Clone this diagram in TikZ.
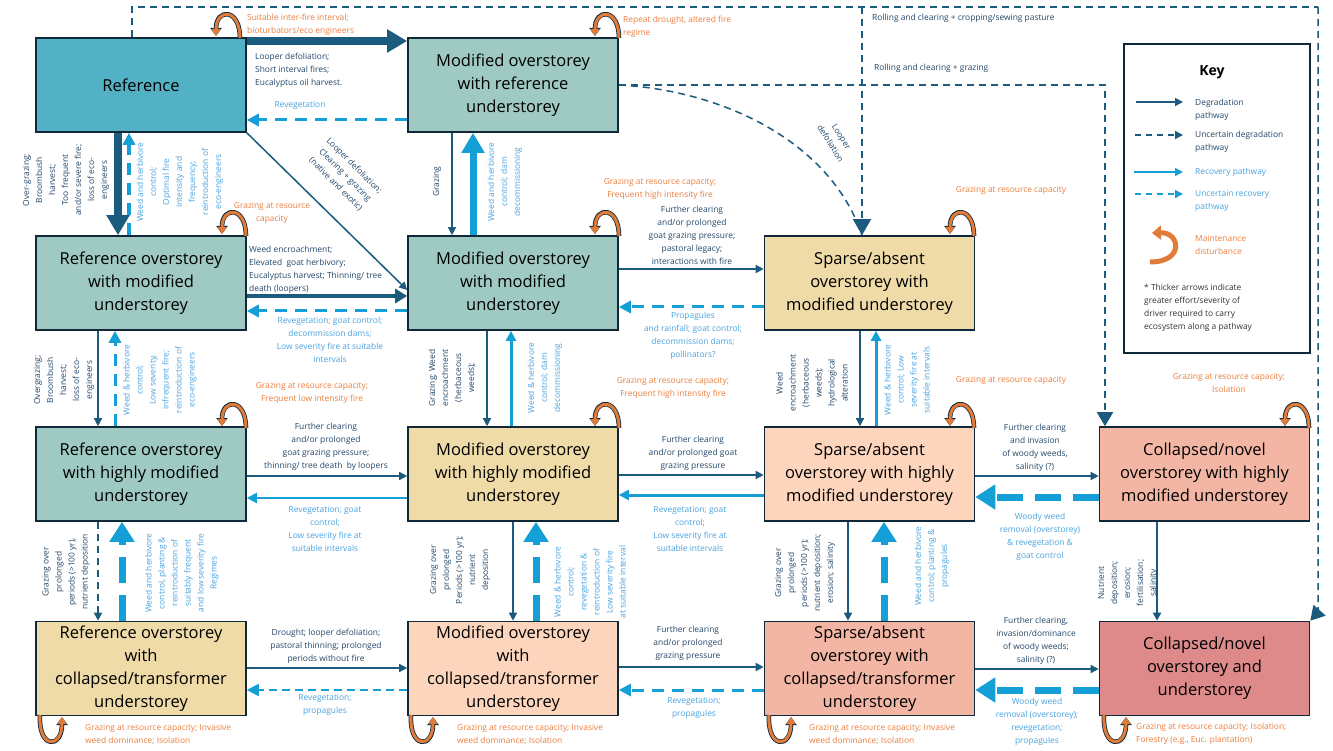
\documentclass[tikz,border=0pt]{standalone}
\usepackage{fontspec}
\setmainfont{Open Sans}
\usetikzlibrary{arrows.meta}
\definecolor{dk}{HTML}{1A5B7E}
\definecolor{lb}{HTML}{14A0D6}
\definecolor{og}{HTML}{E07B39}
\definecolor{tdk}{HTML}{24486A}
\definecolor{tlb}{HTML}{4AA3DF}
\definecolor{tog}{HTML}{EC7F3E}
\definecolor{cA}{HTML}{53B1C6}
\definecolor{cB}{HTML}{9FCAC3}
\definecolor{cC}{HTML}{EFDBA8}
\definecolor{cD}{HTML}{FCD5BC}
\definecolor{cE}{HTML}{F4B6A4}
\definecolor{cF}{HTML}{DE8A8A}
\definecolor{edge}{HTML}{10293A}
\begin{document}
\begin{tikzpicture}[x=1pt,y=-1pt,
 box/.style={draw=edge,line width=1.6pt,minimum width=210pt,minimum height=94pt,align=center,font=\fontsize{16.5}{23}\selectfont,inner sep=2pt},
 lab/.style={font=\fontsize{8.4}{13}\selectfont,align=center,text=tdk,inner sep=1pt},
 rlab/.style={lab,text=tlb},
 olab/.style={lab,text=tog},
 deg/.style={draw=dk,line width=1.5pt,-{Triangle[length=8pt,width=8pt]}},
 degw/.style={draw=dk,line width=4pt,-{Triangle[length=12pt,width=14pt]}},
 degW/.style={draw=dk,line width=8pt,-{Triangle[length=20pt,width=22pt]}},
 undeg/.style={draw=dk,line width=1.5pt,dash pattern=on 7pt off 5pt,-{Triangle[length=8pt,width=8pt]}},
 rec/.style={draw=lb,line width=2pt,-{Triangle[length=10pt,width=10pt]}},
 recw/.style={draw=lb,line width=4pt,-{Triangle[length=14pt,width=16pt]}},
 recW/.style={draw=lb,line width=7pt,-{Triangle[length=20pt,width=22pt]}},
 unrec/.style={draw=lb,line width=3pt,dash pattern=on 12pt off 8pt,-{Triangle[length=12pt,width=12pt]}},
 unrecW/.style={draw=lb,line width=7pt,dash pattern=on 26pt off 12pt,-{Triangle[length=20pt,width=24pt]}},
 mloop/.style={draw=og,line width=3pt,-{Triangle[length=7pt,width=9pt]}},
]
\useasboundingbox[fill=white] (0,0) rectangle (1333,751);
% boxes
\node[box,fill=cA] (ref) at (141,85) {Reference};
\node[box,fill=cB] (modref) at (513,85) {Modified overstorey\\with reference\\understorey};
\node[box,fill=cB] (refmod) at (141,283) {Reference overstorey\\with modified\\understorey};
\node[box,fill=cB] (modmod) at (513,283) {Modified overstorey\\with modified\\understorey};
\node[box,fill=cC] (spmod) at (869.5,283) {Sparse/absent\\overstorey with\\modified understorey};
\node[box,fill=cB] (refhi) at (141,474) {Reference overstorey\\with highly modified\\understorey};
\node[box,fill=cC] (modhi) at (513,474) {Modified overstorey\\with highly modified\\understorey};
\node[box,fill=cD] (sphi) at (869.5,474) {Sparse/absent\\overstorey with highly\\modified understorey};
\node[box,fill=cE] (colhi) at (1204.5,474) {Collapsed/novel\\overstorey with highly\\modified understorey};
\node[box,fill=cC] (refcol) at (141,668.5) {Reference overstorey\\with\\collapsed/transformer\\understorey};
\node[box,fill=cD] (modcol) at (513,668.5) {Modified overstorey\\with\\collapsed/transformer\\understorey};
\node[box,fill=cE] (spcol) at (869.5,668.5) {Sparse/absent\\overstorey with\\collapsed/transformer\\understorey};
\node[box,fill=cF] (colnov) at (1204.5,668.5) {Collapsed/novel\\overstorey and\\understorey};
% top dashed long pathways
\coordinate (t1) at (132,7); \coordinate (t2) at (1318,7); \coordinate (t3) at (862,7);
\coordinate (cn) at (1318,612);
\draw[undeg,-] (ref.north -| 132,0) -- (t1) -- (t2);
\draw[undeg,-{Triangle[length=14pt,width=16pt]}] (t2) -- (cn) -- (colnov.north east);
\draw[undeg,-{Triangle[length=16pt,width=18pt]}] (t3) -- (spmod.north -| 862,0);
\draw[undeg,-] (modref.east) .. controls (720,90) and (830,140) .. (spmod.north -| 862,0);
\draw[undeg,-{Triangle[length=14pt,width=16pt]}] (modref.east) -- (1105,85) -- (colhi.north -| 1105,0);
\node[lab,anchor=west] (l1) at (871,18) {Rolling and clearing + cropping/sewing pasture};
\node[lab,anchor=west] (l2) at (873,68) {Rolling and clearing + grazing};
\node[lab,rotate=-58] (l3) at (836,140) {Looper\\defoliation};
% row1
\draw[degW] (ref.east |- 0,41) -- (modref.west |- 0,41);
\node[lab,anchor=west,align=left] (l4) at (254,70) {Looper defoliation;\\Short interval fires;\\Eucalyptus oil harvest.};
\draw[unrec] (modref.west |- 0,120) -- (ref.east |- 0,120);
\node[rlab] (l5) at (300,105) {Revegetation};
\draw[degW] (ref.south -| 118,0) -- (refmod.north -| 118,0);
\node[lab,rotate=90] (l6) at (66,180) {Over-grazing;\\Broombush\\harvest;\\Too frequent\\and/or severe fire;\\loss of eco-\\engineers};
\draw[unrec,line width=3.5pt] (refmod.north -| 129,0) -- (ref.south -| 129,0);
\node[rlab,rotate=90] (l7) at (180,182) {Weed and herbivore\\control;\\Optimal fire\\intensity and\\frequency;\\reintroduction of\\eco-engineers};
\draw[deg] (ref.south east) -- (modmod.west |- 0,290);
\node[lab,rotate=-45] (l8) at (345,175) {Looper defoliation;\\Clearing + grazing\\(native and exotic)};
\draw[deg,line width=1.2pt] (modref.south -| 452,0) -- (modmod.north -| 452,0);
\node[lab,rotate=90] (l9) at (437,182) {Grazing};
\draw[recW] (modmod.north -| 473,0) -- (modref.south -| 473,0);
\node[rlab,rotate=90] (l10) at (505,182) {Weed and herbivore\\control; dam\\decommissioning};
% row2
\draw[degw] (refmod.east |- 0,296) -- (modmod.west |- 0,296);
\node[lab,anchor=west,align=left] (l11) at (248,270) {Weed encroachment;\\Elevated\ \ goat herbivory;\\Eucalyptus harvest; Thinning/ tree\\death (loopers)};
\draw[unrec] (modmod.west |- 0,311) -- (refmod.east |- 0,311);
\node[rlab] (l12) at (330,340) {Revegetation; goat control;\\decommission dams;\\Low severity fire at suitable\\intervals};
\draw[deg] (modmod.east |- 0,269) -- (spmod.west |- 0,269);
\node[lab] (l13) at (692,235) {Further clearing\\and/or prolonged\\goat grazing pressure;\\pastoral legacy;\\interactions with fire};
\draw[unrec] (spmod.west |- 0,307) -- (modmod.east |- 0,307);
\node[rlab] (l14) at (693,336) {Propagules\\and rainfall; goat control;\\decommission dams;\\pollinators?};
% row2 -> row3 verticals
\draw[deg] (refmod.south -| 98,0) -- (refhi.north -| 98,0);
\node[lab,rotate=90] (l15) at (64,380) {Overgrazing;\\Broombush\\harvest;\\loss of eco-\\engineers};
\draw[unrec] (refhi.north -| 115,0) -- (refmod.south -| 115,0);
\node[rlab,rotate=90] (l16) at (160,380) {Weed \& herbivore\\control;\\Low severity,\\infrequent fire;\\reintroduction of\\eco-engineers};
\draw[deg] (modmod.south -| 487,0) -- (modhi.north -| 487,0);
\node[lab,rotate=90] (l17) at (452,378) {Grazing; Weed\\encroachment\\(herbaceous\\weeds);};
\draw[rec,line width=3pt] (modhi.north -| 511,0) -- (modmod.south -| 511,0);
\node[rlab,rotate=90] (l18) at (545,378) {Weed \& herbivore\\control; dam\\decommissioning};
\draw[deg] (spmod.south -| 860,0) -- (sphi.north -| 860,0);
\node[lab,rotate=90] (l19) at (812,383) {Weed\\encroachment\\(herbaceous\\weeds);\\hydrological\\alteration};
\draw[rec,line width=3pt] (sphi.north -| 876,0) -- (spmod.south -| 876,0);
\node[rlab,rotate=90] (l20) at (907,380) {Weed \& herbivore\\control; Low\\severity fire at\\suitable intervals};
% row3 horizontals
\draw[deg] (refhi.east |- 0,476) -- (modhi.west |- 0,476);
\node[lab] (l21) at (326,447) {Further clearing\\and/or prolonged\\goat grazing pressure;\\thinning/ tree death\ \ by loopers};
\draw[rec] (modhi.west |- 0,498) -- (refhi.east |- 0,498);
\node[rlab] (l22) at (325,529) {Revegetation; goat\\control;\\Low severity fire at\\suitable intervals};
\draw[deg] (modhi.east |- 0,475) -- (sphi.west |- 0,475);
\node[lab] (l23) at (693,453) {Further clearing\\and/or prolonged goat\\grazing pressure};
\draw[rec,line width=3pt] (sphi.west |- 0,495) -- (modhi.east |- 0,495);
\node[rlab] (l24) at (690,529) {Revegetation; goat\\control;\\Low severity fire at\\suitable intervals};
\draw[deg] (sphi.east |- 0,476) -- (colhi.west |- 0,476);
\node[lab] (l25) at (1035,448) {Further clearing\\and invasion\\of woody weeds,\\salinity (?)};
\draw[unrecW] (colhi.west |- 0,497) -- (sphi.east |- 0,497);
\node[rlab] (l26) at (1040,537) {Woody weed\\removal (overstorey)\\\& revegetation \&\\goat control};
% row3 -> row4
\draw[undeg] (refhi.south -| 98,0) -- (refcol.north -| 98,0);
\node[lab,rotate=90] (l27) at (66,572) {Grazing over\\prolonged\\periods (>100 yr),\\nutrient deposition};
\draw[unrecW] (refcol.north -| 122,0) -- (refhi.south -| 122,0);
\node[rlab,rotate=90] (l28) at (182,573) {Weed and herbivore\\control, planting \&\\reintroduction of\\suitably frequent\\and low severity fire\\Regimes};
\draw[deg] (modhi.south -| 513,0) -- (modcol.north -| 513,0);
\node[lab,rotate=90] (l29) at (460,570) {Grazing over\\prolonged\\Periods (>100 yr);\\nutrient\\deposition};
\draw[unrecW] (modcol.north -| 536,0) -- (modhi.south -| 536,0);
\node[rlab,rotate=90] (l30) at (590,582) {Weed \& herbivore\\control;\\revegetation \&\\reintroduction of\\Low severity fire\\at suitable interval};
\draw[deg] (sphi.south -| 848,0) -- (spcol.north -| 848,0);
\node[lab,rotate=90] (l31) at (805,573) {Grazing over\\prolonged\\periods (>100 yr);\\nutrient deposition;\\erosion; salinity};
\draw[unrecW] (spcol.north -| 884,0) -- (sphi.south -| 884,0);
\node[rlab,rotate=90] (l32) at (932,566) {Weed and herbivore\\control; planting \&\\propagules};
\draw[deg,line width=2pt] (colhi.south -| 1157,0) -- (colnov.north -| 1157,0);
\node[lab,rotate=90] (l33) at (1128,583) {Nutrient\\deposition;\\erosion;\\fertilisation;\\salinity};
% row4 horizontals
\draw[deg] (refcol.east |- 0,668) -- (modcol.west |- 0,668);
\node[lab] (l34) at (326,646) {Drought; looper defoliation;\\pastoral thinning; prolonged\\periods without fire};
\draw[unrec,line width=2pt,dash pattern=on 8pt off 5pt] (modcol.west |- 0,690) -- (refcol.east |- 0,690);
\node[rlab] (l35) at (325,705) {Revegetation;\\propagules};
\draw[deg] (modcol.east |- 0,667) -- (spcol.west |- 0,667);
\node[lab] (l36) at (688,643) {Further clearing\\and/or prolonged\\grazing pressure};
\draw[unrec] (spcol.west |- 0,690) -- (modcol.east |- 0,690);
\node[rlab] (l37) at (694,708) {Revegetation;\\propagules};
\draw[deg] (spcol.east |- 0,669) -- (colnov.west |- 0,669);
\node[lab] (l38) at (1036,641) {Further clearing,\\invasion/dominance\\of woody weeds;\\salinity (?)};
\draw[unrecW] (colnov.west |- 0,690) -- (spcol.east |- 0,690);
\node[rlab] (l39) at (1037,722) {Woody weed\\removal (overstorey);\\revegetation;\\propagules};
% maintenance loops (top right)
\foreach \x/\y in {240/38,619/38,246/236,619/236,974/236,246/428,619/428,974/428,1309/428}{
  \draw[draw=edge,line width=4.6pt,-{Triangle[length=8pt,width=11pt]}] (\x,\y) .. controls (\x,\y-30) and (\x-24,\y-30) .. (\x-24,\y-2);
  \draw[mloop] (\x,\y) .. controls (\x,\y-30) and (\x-24,\y-30) .. (\x-24,\y-2);
}
\foreach \x/\y in {36/715,407/715,765/715,1100/715}{
  \draw[draw=edge,line width=4.6pt,-{Triangle[length=8pt,width=11pt]}] (\x+4,\y) .. controls (\x+2,\y+34) and (\x+26,\y+34) .. (\x+26,\y+2);
  \draw[mloop] (\x+4,\y) .. controls (\x+2,\y+34) and (\x+26,\y+34) .. (\x+26,\y+2);
}
\node[olab,anchor=west,align=left] (o1) at (246,25) {Suitable inter-fire interval;\\bioturbators/eco engineers};
\node[olab,anchor=west,align=left] (o2) at (622,27) {Repeat drought, altered fire\\regime};
\node[olab] (o3) at (272,213) {Grazing at resource\\capacity};
\node[olab] (o4) at (660,189) {Grazing at resource capacity;\\Frequent high intensity fire};
\node[olab] (o5) at (1011,190) {Grazing at resource capacity};
\node[olab] (o6) at (312,393) {Grazing at resource capacity;\\Frequent low intensity fire};
\node[olab] (o7) at (673,388) {Grazing at resource capacity;\\Frequent high intensity fire};
\node[olab] (o8) at (1011,380) {Grazing at resource capacity};
\node[olab] (o9) at (1229,383) {Grazing at resource capacity;\\Isolation};
\node[olab,anchor=west,align=left] (o10) at (84,734) {Grazing at resource capacity; Invasive\\weed dominance; Isolation};
\node[olab,anchor=west,align=left] (o11) at (456,734) {Grazing at resource capacity; Invasive\\weed dominance; Isolation};
\node[olab,anchor=west,align=left] (o12) at (808,734) {Grazing at resource capacity; Invasive\\weed dominance; Isolation};
\node[olab,anchor=west,align=left] (o13) at (1135,734) {Grazing at resource capacity; Isolation;\\Forestry (e.g., Euc. plantation)};
% key
\node[draw=edge,line width=1.6pt,minimum width=186pt,minimum height=309pt] (key) at (1217,198.5) {};
\node[font=\fontsize{14}{16}\selectfont\bfseries] (kt) at (1212,72) {Key};
\coordinate (k1a) at (1136,102); \coordinate (k1b) at (1183,102);
\draw[deg] (k1a) -- (k1b);
\node[lab,anchor=west,align=left] (kl1) at (1194,110) {Degradation\\pathway};
\coordinate (k2a) at (1135,135); \coordinate (k2b) at (1183,135);
\draw[undeg,dash pattern=on 6pt off 5pt] (k2a) -- (k2b);
\node[lab,anchor=west,align=left] (kl2) at (1194,142) {Uncertain degradation\\pathway};
\coordinate (k3a) at (1134,172); \coordinate (k3b) at (1183,172);
\draw[rec,line width=1.5pt,-{Triangle[length=8pt,width=8pt]}] (k3a) -- (k3b);
\node[lab,anchor=west,text=tlb] (kl3) at (1194,172) {Recovery pathway};
\coordinate (k4a) at (1135,194); \coordinate (k4b) at (1183,194);
\draw[rec,line width=1.5pt,dash pattern=on 6pt off 5pt,-{Triangle[length=8pt,width=8pt]}] (k4a) -- (k4b);
\node[lab,anchor=west,align=left,text=tlb] (kl4) at (1194,201) {Uncertain recovery\\pathway};
\coordinate (k5a) at (1150,262); \coordinate (k5b) at (1152,233);
\draw[draw=og,line width=5pt,-{Triangle[length=9pt,width=14pt]}] (k5a) .. controls (1185,262) and (1180,232) .. (k5b);
\node[olab,anchor=west,align=left] (kl5) at (1194,245) {Maintenance\\disturbance};
\node[lab,anchor=west,align=left,text=black!80] (kl6) at (1143,308) {* Thicker arrows indicate\\greater effort/severity of\\driver required to carry\\ecosystem along a pathway};
\end{tikzpicture}
\end{document}
